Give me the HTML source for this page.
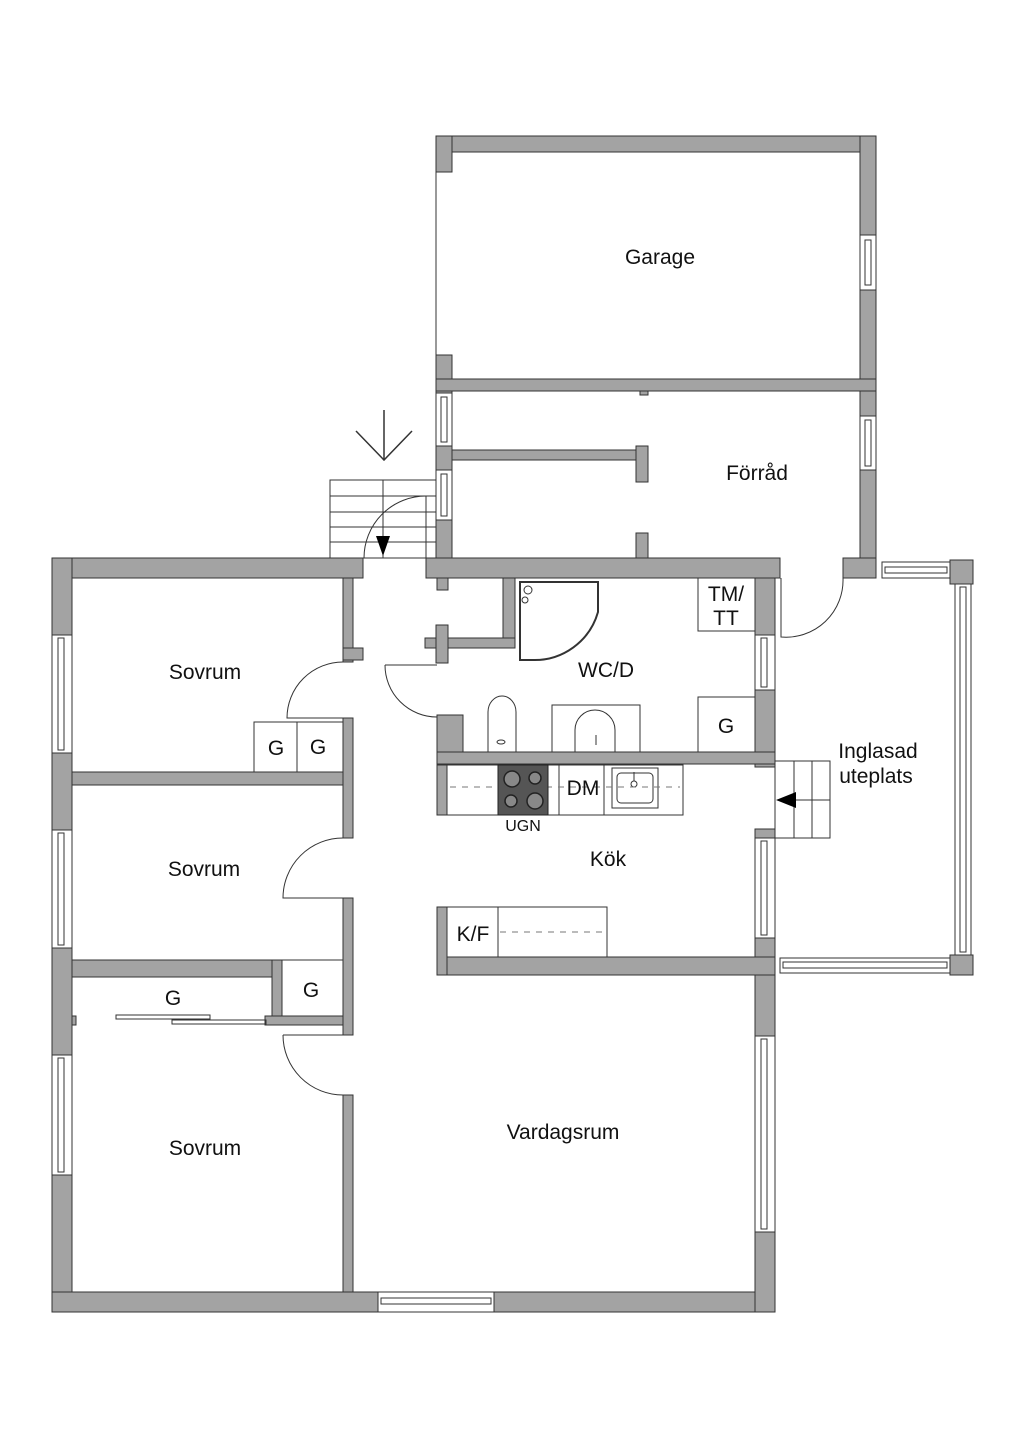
<!DOCTYPE html>
<html><head><meta charset="utf-8"><style>
html,body{margin:0;padding:0;background:#fff;}
svg{display:block;}
text{font-family:"Liberation Sans",sans-serif;fill:#111;}
</style></head><body>
<svg width="1024" height="1448" viewBox="0 0 1024 1448" xmlns="http://www.w3.org/2000/svg">
<g fill="#a3a3a3" stroke="#333" stroke-width="1">
<!-- Garage -->
<rect x="436" y="136" width="440" height="16"/>
<rect x="436" y="136" width="16" height="36"/>
<rect x="860" y="136" width="16" height="99"/>
<rect x="860" y="290" width="16" height="126"/>
<rect x="436" y="355" width="16" height="38"/>
<rect x="436" y="379" width="440" height="12"/>
<rect x="640" y="391" width="8" height="4"/>
<!-- Förråd -->
<rect x="436" y="446" width="16" height="24"/>
<rect x="436" y="520" width="16" height="40"/>
<rect x="452" y="450" width="190" height="10"/>
<rect x="636" y="446" width="12" height="36"/>
<rect x="636" y="533" width="12" height="26"/>
<rect x="860" y="470" width="16" height="108"/>
<rect x="843" y="558" width="33" height="20"/>
<!-- main top -->
<rect x="52" y="558" width="311" height="20"/>
<rect x="426" y="558" width="354" height="20"/>
<rect x="437" y="578" width="11" height="12"/>
<rect x="52" y="558" width="20" height="77"/>
<rect x="52" y="753" width="20" height="77"/>
<rect x="52" y="948" width="20" height="107"/>
<rect x="52" y="1175" width="20" height="137"/>
<rect x="52" y="1292" width="326" height="20"/>
<rect x="494" y="1292" width="281" height="20"/>
<rect x="755" y="975" width="20" height="61"/>
<rect x="755" y="1232" width="20" height="80"/>
<!-- corridor left wall -->
<rect x="343" y="578" width="10" height="84"/>
<rect x="343" y="648" width="20" height="12"/>
<rect x="343" y="718" width="10" height="120"/>
<rect x="343" y="898" width="10" height="137"/>
<rect x="343" y="1095" width="10" height="197"/>
<rect x="72" y="772" width="271" height="13"/>
<rect x="72" y="960" width="210" height="17"/>
<rect x="272" y="960" width="10" height="60"/>
<rect x="265" y="1016" width="78" height="9"/>
<rect x="72" y="1016" width="4" height="9"/>
<!-- bathroom -->
<rect x="503" y="578" width="12" height="70"/>
<rect x="425" y="638" width="90" height="10"/>
<rect x="436" y="625" width="12" height="38"/>
<rect x="755" y="578" width="20" height="57"/>
<rect x="755" y="690" width="20" height="77"/>
<rect x="437" y="715" width="26" height="50"/>
<rect x="437" y="752" width="338" height="12"/>
<rect x="437" y="765" width="10" height="50"/>
<!-- kitchen -->
<rect x="755" y="829" width="20" height="9"/>
<rect x="755" y="938" width="20" height="37"/>
<rect x="437" y="957" width="338" height="18"/>
<rect x="437" y="907" width="10" height="68"/>
<!-- uteplats corners -->
<rect x="950" y="560" width="23" height="24"/>
<rect x="950" y="955" width="23" height="20"/>
</g>
<!-- windows -->
<g fill="#fff" stroke="#333" stroke-width="1">
<rect x="860" y="235" width="16" height="55"/><rect x="865" y="240" width="6" height="45"/>
<rect x="860" y="416" width="16" height="54"/><rect x="865" y="420" width="6" height="46"/>
<rect x="436" y="393" width="16" height="53"/><rect x="441" y="397" width="6" height="45"/>
<rect x="436" y="470" width="16" height="50"/><rect x="441" y="474" width="6" height="42"/>
<rect x="52" y="635" width="20" height="118"/><rect x="58" y="638" width="6" height="112"/>
<rect x="52" y="830" width="20" height="118"/><rect x="58" y="833" width="6" height="112"/>
<rect x="52" y="1055" width="20" height="120"/><rect x="58" y="1058" width="6" height="114"/>
<rect x="378" y="1292" width="116" height="20"/><rect x="381" y="1298" width="110" height="6"/>
<rect x="755" y="1036" width="20" height="196"/><rect x="761" y="1039" width="6" height="190"/>
<rect x="755" y="635" width="20" height="55"/><rect x="761" y="638" width="6" height="49"/>
<rect x="755" y="838" width="20" height="100"/><rect x="761" y="841" width="6" height="94"/>
<rect x="882" y="562" width="68" height="16"/><rect x="885" y="567" width="62" height="6"/>
<rect x="955" y="584" width="16" height="371"/><rect x="960" y="587" width="6" height="365"/>
<rect x="780" y="958" width="170" height="15"/><rect x="783" y="962" width="164" height="6"/>
</g>
<g fill="none" stroke="#333" stroke-width="1">
<line x1="436" y1="172" x2="436" y2="355"/>
<!-- entry stairs -->
<rect x="330" y="480" width="106" height="78"/>
<line x1="330" y1="496" x2="436" y2="496"/><line x1="330" y1="512" x2="436" y2="512"/>
<line x1="330" y1="527" x2="436" y2="527"/><line x1="330" y1="542" x2="436" y2="542"/>
<line x1="383" y1="480" x2="383" y2="558"/>
<path d="M426 496 A62 62 0 0 0 364 558"/>
<line x1="426" y1="496" x2="426" y2="558"/>
<!-- arrow -->
<line x1="384" y1="410" x2="384" y2="460" stroke-width="1.5"/>
<path d="M356 431 L384 460 L412 431" stroke-width="1.5"/>
<!-- door arcs -->
<path d="M343 662 A56 56 0 0 0 287 718 L343 718"/>
<path d="M385 665 A52 52 0 0 0 437 717 M385 665 L437 665"/>
<path d="M343 838 A60 60 0 0 0 283 898 L343 898"/>
<path d="M283 1035 A60 60 0 0 0 343 1095 M283 1035 L343 1035"/>
<path d="M843 578 A57 57 0 0 1 781 637 L781 578"/>
<!-- closets -->
<rect x="254" y="722" width="89" height="50"/><line x1="297" y1="722" x2="297" y2="772"/>
<rect x="282" y="960" width="61" height="56"/>
<rect x="116" y="1015" width="94" height="4"/><rect x="172" y="1020" width="94" height="4"/>
<!-- bathroom -->
<rect x="698" y="578" width="57" height="53"/>
<rect x="698" y="697" width="57" height="55"/>
<rect x="552" y="705" width="88" height="47"/>
<path d="M575 752 L575 730 A20 20 0 0 1 615 730 L615 752"/>
<line x1="596" y1="735" x2="596" y2="745"/>
<path d="M488 752 L488 712 A14 16 0 0 1 516 712 L516 752" />
<ellipse cx="501" cy="742" rx="4" ry="2"/>
<path d="M520 582 L598 582 L598 612 A66 66 0 0 1 532 660 L520 660 Z" stroke-width="2"/>
<circle cx="528" cy="590" r="4"/><circle cx="525" cy="600" r="3"/>
<!-- kitchen counter -->
<rect x="447" y="765" width="236" height="50"/>
<line x1="559" y1="765" x2="559" y2="815"/><line x1="604" y1="765" x2="604" y2="815"/>
<rect x="612" y="768" width="46" height="40"/><rect x="617" y="773" width="36" height="30" rx="4"/>
<circle cx="634" cy="784" r="3"/><line x1="634" y1="772" x2="634" y2="781"/>
<line x1="450" y1="787" x2="680" y2="787" stroke="#777" stroke-dasharray="6 6"/>
<rect x="447" y="907" width="160" height="50"/><line x1="498" y1="907" x2="498" y2="957"/>
<line x1="500" y1="932" x2="605" y2="932" stroke="#777" stroke-dasharray="6 6"/>
<!-- uteplats stairs -->
<rect x="775" y="761" width="55" height="77"/>
<line x1="794" y1="761" x2="794" y2="838"/><line x1="812" y1="761" x2="812" y2="838"/>
<line x1="794" y1="800" x2="830" y2="800"/>
</g>
<rect x="498" y="765" width="50" height="50" fill="#555" stroke="#222"/>
<g fill="#888" stroke="#222" stroke-width="1.5">
<circle cx="512" cy="779" r="8"/><circle cx="535" cy="778" r="6"/>
<circle cx="511" cy="801" r="6"/><circle cx="535" cy="801" r="8"/>
</g>
<path d="M376 536 L390 536 L383 556 Z" fill="#000"/>
<path d="M776 800 L796 792 L796 808 Z" fill="#000"/>
<g font-size="21">
<text x="660" y="264" text-anchor="middle">Garage</text>
<text x="757" y="480" text-anchor="middle">Förråd</text>
<text x="606" y="677" text-anchor="middle">WC/D</text>
<text x="726" y="601" text-anchor="middle">TM/</text>
<text x="726" y="625" text-anchor="middle">TT</text>
<text x="726" y="733" text-anchor="middle">G</text>
<text x="205" y="679" text-anchor="middle">Sovrum</text>
<text x="204" y="876" text-anchor="middle">Sovrum</text>
<text x="205" y="1155" text-anchor="middle">Sovrum</text>
<text x="276" y="755" text-anchor="middle">G</text>
<text x="318" y="754" text-anchor="middle">G</text>
<text x="311" y="997" text-anchor="middle">G</text>
<text x="173" y="1005" text-anchor="middle">G</text>
<text x="878" y="758" text-anchor="middle">Inglasad</text>
<text x="876" y="783" text-anchor="middle">uteplats</text>
<text x="583" y="795" text-anchor="middle">DM</text>
<text x="608" y="866" text-anchor="middle">Kök</text>
<text x="473" y="941" text-anchor="middle">K/F</text>
<text x="563" y="1139" text-anchor="middle">Vardagsrum</text>
</g>
<text x="523" y="831" text-anchor="middle" font-size="16">UGN</text>
</svg>
</body></html>
